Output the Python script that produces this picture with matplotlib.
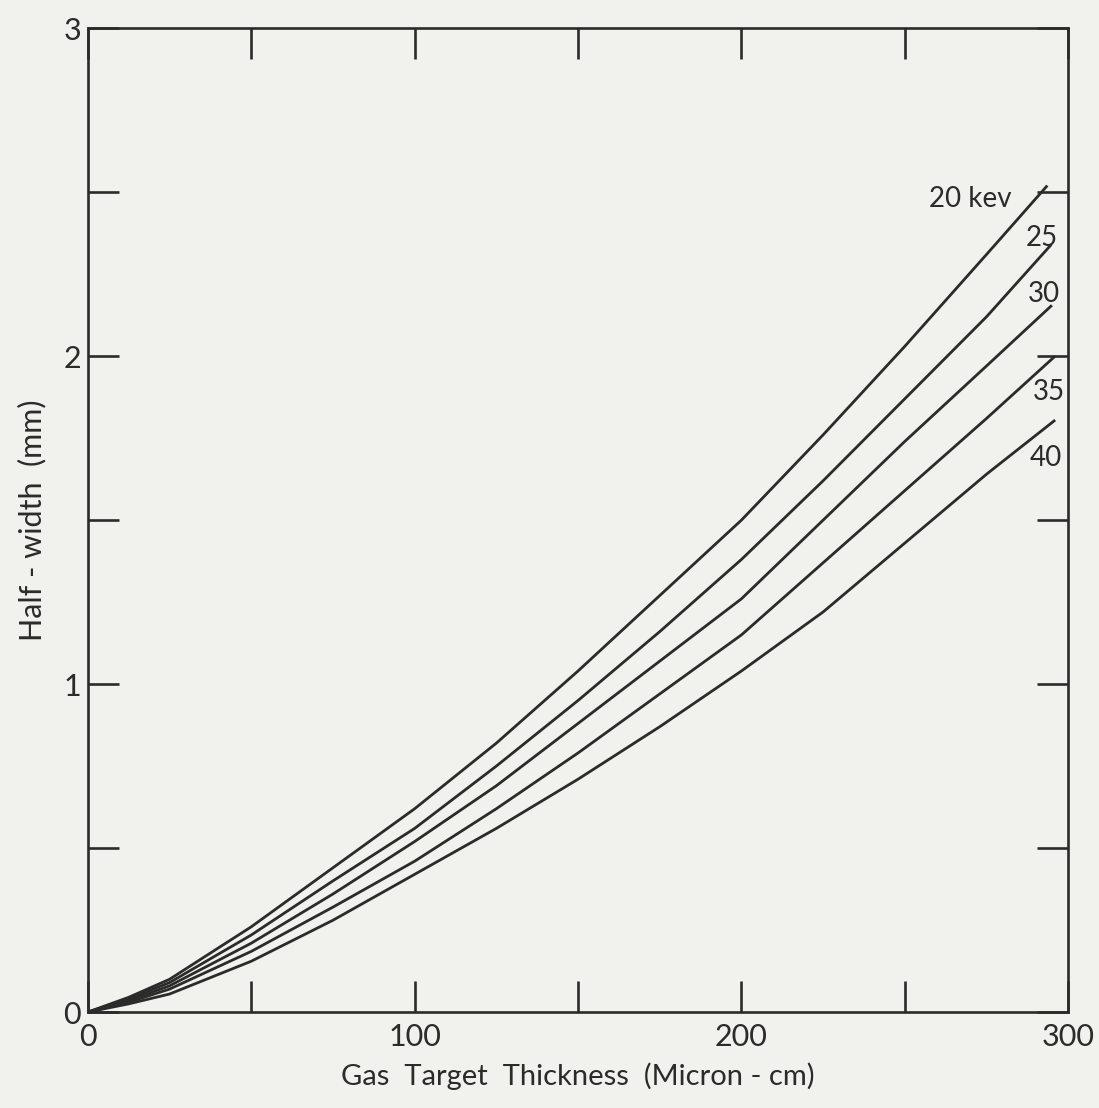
import matplotlib
matplotlib.use("Agg")
import matplotlib.pyplot as plt

# Gas target thickness (micron-cm) sample positions
thickness = [0, 12.5, 25, 50, 75, 100, 125, 150, 175, 200, 225, 250, 275]

# Half-width (mm) for each beam energy
hw_20 = [0, 0.045, 0.10, 0.26, 0.44, 0.62, 0.82, 1.04, 1.27, 1.50, 1.76, 2.03, 2.31, 2.52]
hw_25 = [0, 0.04, 0.09, 0.235, 0.40, 0.56, 0.75, 0.95, 1.16, 1.38, 1.62, 1.87, 2.12, 2.34]
hw_30 = [0, 0.035, 0.08, 0.21, 0.36, 0.52, 0.69, 0.88, 1.07, 1.26, 1.50, 1.74, 1.97, 2.155]
hw_35 = [0, 0.03, 0.07, 0.185, 0.32, 0.46, 0.62, 0.79, 0.97, 1.15, 1.37, 1.59, 1.81, 2.00]
hw_40 = [0, 0.025, 0.055, 0.155, 0.28, 0.42, 0.56, 0.71, 0.87, 1.04, 1.22, 1.43, 1.64, 1.805]
end_x = [293.6, 294.8, 295.0, 296.0, 296.0]

energy_labels = ["20 kev", "25", "30", "35", "40"]
label_pos = [(270, 2.48), (292, 2.36), (292.6, 2.19), (294, 1.89), (293, 1.69)]

x_tick_labels = ["0", "100", "200", "300"]
y_tick_labels = ["0", "1", "2", "3"]

ink = "#2b2b2b"
paper = "#f1f2ee"
font = "Lato"

fig = plt.figure(figsize=(10.99, 11.08), dpi=100, facecolor=paper)
ax = fig.add_axes([0.080, 0.0866, 0.892, 0.888], facecolor=paper)

series = [hw_20, hw_25, hw_30, hw_35, hw_40]
for vals, xe in zip(series, end_x):
    ax.plot(thickness + [xe], vals, color=ink, lw=2.0,
            solid_capstyle="butt", solid_joinstyle="round")

for text, (lx, ly) in zip(energy_labels, label_pos):
    ax.text(lx, ly, text, ha="center", va="center", fontsize=20,
            color=ink, family=font)

ax.set_xlim(0, 300)
ax.set_ylim(0, 3)

for s in ax.spines.values():
    s.set_color(ink)
    s.set_linewidth(1.9)

ax.set_xticks([0, 100, 200, 300])
ax.set_xticklabels(x_tick_labels)
ax.set_xticks([50, 150, 250], minor=True)
ax.set_yticks([0, 1, 2, 3])
ax.set_yticklabels(y_tick_labels)
ax.set_yticks([0.5, 1.5, 2.5], minor=True)

ax.tick_params(which="both", direction="in", length=22, width=1.9,
               color=ink, top=True, right=True, labelcolor=ink,
               labelsize=22)
ax.tick_params(axis="x", which="major", pad=8)
ax.tick_params(axis="y", which="major", pad=5)
for lab in ax.get_xticklabels() + ax.get_yticklabels():
    lab.set_family(font)

ax.set_xlabel("Gas  Target  Thickness  (Micron - cm)", fontsize=21,
              color=ink, family=font, labelpad=8)
ax.set_ylabel("Half - width  (mm)", fontsize=22, color=ink,
              family=font, labelpad=12)

fig.savefig("out.png", dpi=100, facecolor=paper)
